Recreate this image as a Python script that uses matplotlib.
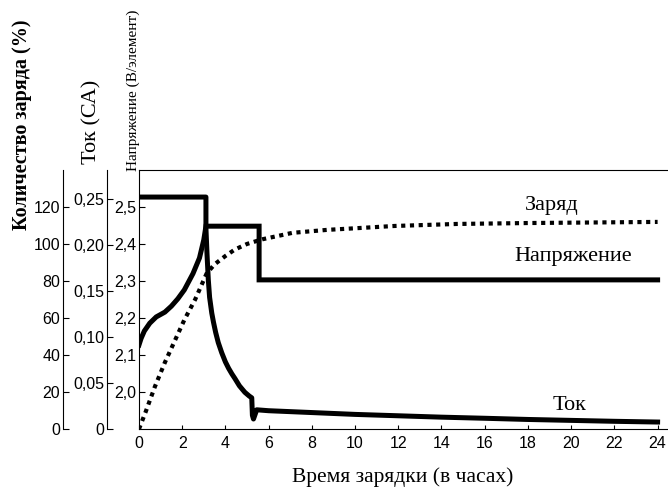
import matplotlib
matplotlib.use("Agg")
import matplotlib.pyplot as plt
from matplotlib.ticker import FuncFormatter

# charge amount, % (dotted)
charge_t = [0, 0.3, 0.74, 1.2, 1.67, 2.1, 2.6, 3.13, 3.5, 4.0, 4.44, 5.0, 5.7, 7.1, 8.7,
            10.2, 11.8, 14.7, 18.0, 21.0, 24.0]
charge_v = [0, 9, 23, 36, 48, 59, 70, 84, 89, 93.5, 97, 100, 102.5, 106, 107.6,
            108.6, 109.7, 110.8, 111.3, 111.6, 111.9]

# voltage, V per cell
volt_t = [0, 0.1, 0.25, 0.5, 0.8, 1.2, 1.5, 1.8, 2.1, 2.5, 2.8, 3.0, 3.1, 5.56, 5.56, 24.0]
volt_v = [2.127, 2.145, 2.165, 2.186, 2.203, 2.216, 2.232, 2.252, 2.276, 2.320, 2.362,
          2.411, 2.448, 2.448, 2.303, 2.303]

# current, CA
cur_t = [0, 3.1, 3.1, 3.15, 3.21, 3.27, 3.37, 3.45, 3.55, 3.67, 3.83, 4.0, 4.15, 4.3,
         4.44, 4.65, 4.9, 5.1, 5.22, 5.25, 5.3, 5.45, 6, 8, 10, 12, 14, 16, 18, 20, 22, 24]
cur_v = [0.252, 0.252, 0.218, 0.19, 0.162, 0.143, 0.126, 0.116, 0.105, 0.094, 0.083,
         0.073, 0.066, 0.060, 0.055, 0.047, 0.040, 0.036, 0.034, 0.015, 0.011, 0.021,
         0.020, 0.018, 0.016, 0.0145, 0.013, 0.0118, 0.0105, 0.0095, 0.0085, 0.0077]

xticks = list(range(0, 25, 2))
volt_ticks = [2.0, 2.1, 2.2, 2.3, 2.4, 2.5]
cur_ticks = [0, 0.05, 0.10, 0.15, 0.20, 0.25]
charge_ticks = [0, 20, 40, 60, 80, 100, 120]

SANS = 'Liberation Sans'
SERIF = 'Liberation Serif'
TS = 11.5
PX = 72 / 100  # points per pixel


def comma(fmt):
    def f(v, pos):
        if abs(v) < 1e-9:
            return '0'
        return (fmt % v).replace('.', ',')
    return FuncFormatter(f)


def only_left(a, offset):
    for s in ['top', 'right', 'bottom']:
        a.spines[s].set_visible(False)
    a.spines['left'].set_position(('outward', offset))
    a.spines['left'].set_linewidth(0.8)
    a.yaxis.set_ticks_position('left')
    a.yaxis.set_label_position('left')
    a.tick_params(axis='y', direction='in', length=4, width=0.8, pad=2, labelsize=TS)
    for lab in a.get_yticklabels():
        lab.set_family(SANS)


fig = plt.figure(figsize=(6.68, 4.91), dpi=100)
ax = fig.add_axes([0.208, 0.126, 0.791, 0.528])
ax.spines['right'].set_visible(False)
for s in ['left', 'bottom', 'top']:
    ax.spines[s].set_linewidth(0.8)
ax.set_xlim(0, 24.45)
ax.set_ylim(1.9, 2.6)
ax.set_xticks(xticks)
ax.set_yticks(volt_ticks)
ax.yaxis.set_major_formatter(comma('%.1f'))
ax.tick_params(axis='x', direction='in', length=3, width=0.8, pad=5, labelsize=TS)
ax.tick_params(axis='y', direction='in', length=4, width=0.8, pad=2, labelsize=TS)
for lab in ax.get_xticklabels() + ax.get_yticklabels():
    lab.set_family(SANS)

axI = ax.twinx()
axI.set_ylim(0, 0.2815)
axI.set_yticks(cur_ticks)
axI.yaxis.set_major_formatter(comma('%.2f'))
only_left(axI, 32 * PX)

axC = ax.twinx()
axC.set_ylim(0, 140)
axC.set_yticks(charge_ticks)
only_left(axC, 76 * PX)

ax.plot(volt_t, volt_v, color='black', lw=3.6, solid_joinstyle='miter', zorder=3)
axI.plot(cur_t, cur_v, color='black', lw=3.6, solid_joinstyle='round')
axC.plot(charge_t, charge_v, color='black', lw=3.0, linestyle=(0, (1, 1.1)),
         dash_capstyle='butt')

ax.text(19.1, 2.505, 'Заряд', family=SERIF, fontsize=16, ha='center', va='center')
ax.text(20.1, 2.365, 'Напряжение', family=SERIF, fontsize=16, ha='center', va='center')
ax.text(19.9, 1.965, 'Ток', family=SERIF, fontsize=16, ha='center', va='center')
ax.set_xlabel('Время зарядки (в часах)', family=SERIF, fontsize=15.5, labelpad=12)

fig.text(22 / 668, 1 - 125 / 491, 'Количество заряда (%)', family=SERIF, weight='bold',
         fontsize=14.5, rotation=90, ha='center', va='center')
fig.text(92 / 668, 1 - 122 / 491, 'Ток (СА)', family=SERIF, fontsize=16,
         rotation=90, ha='center', va='center')
fig.text(133 / 668, 1 - 90 / 491, 'Напряжение (В/элемент)', family=SERIF, fontsize=11,
         rotation=90, ha='center', va='center')

fig.savefig('out.png', dpi=100)
